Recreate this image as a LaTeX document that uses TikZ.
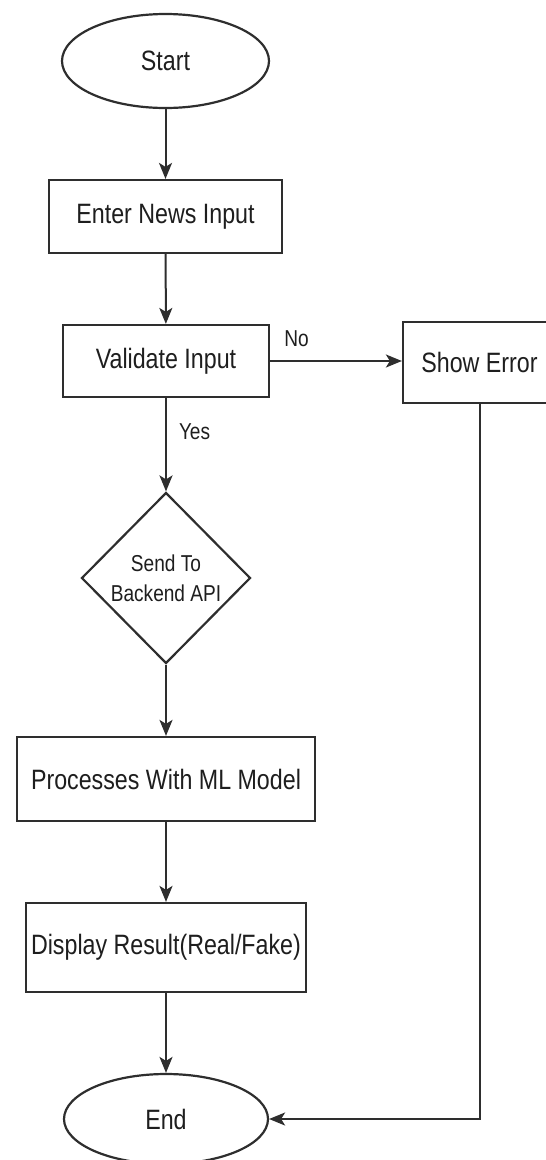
\documentclass[tikz,border=0pt]{standalone}
\usepackage{fontspec}
\setmainfont{Liberation Sans}[FakeStretch=0.83]
\usetikzlibrary{shapes.geometric,arrows.meta}
\definecolor{linec}{HTML}{2E2E2E}
\definecolor{textc}{HTML}{1E1E1E}
\tikzset{
  base/.style={draw=linec, line width=2.2pt, fill=white, text=textc, inner sep=0pt,
    font=\fontsize{28}{32}\selectfont},
  term/.style={base, ellipse},
  procbox/.style={base, rectangle},
  decide/.style={base, diamond, align=center, font=\fontsize{23}{30}\selectfont},
  lbl/.style={text=textc, inner sep=0pt, font=\fontsize{23}{27}\selectfont},
  conn/.style={draw=linec, line width=2pt, -{Stealth[length=16pt,width=13pt,inset=4pt]}},
  plain/.style={draw=linec, line width=2pt}
}
\begin{document}
\begin{tikzpicture}[x=1pt,y=-1pt]
\useasboundingbox (0,0) rectangle (546,1160);
\node[term, minimum width=207pt, minimum height=94pt] (start) at (165.5,61) {Start};
\node[procbox, minimum width=233pt, minimum height=73pt] (enter) at (165.5,216.5) {Enter News Input};
\node[procbox, minimum width=206pt, minimum height=72pt] (validate) at (166,361) {Validate Input};
\node[procbox, minimum width=153pt, minimum height=81pt] (showerr) at (479.5,362.5) {Show Error};
\node[decide, minimum width=169pt, minimum height=171pt] (send) at (166,578) {Send To\\Backend API};
\node[procbox, minimum width=298pt, minimum height=84pt] (proc) at (166,779) {Processes With ML Model};
\node[procbox, minimum width=280pt, minimum height=89pt] (disp) at (166,947.5) {Display Result(Real/Fake)};
\node[term, minimum width=204pt, minimum height=90pt] (end) at (166,1119) {End};

\draw[conn] (start) -- (enter);
\draw[conn] (enter) -- (validate);
\draw[conn] (validate.east) -- node[lbl, pos=0.2, above=13pt] (nolbl) {No} (validate.east -| showerr.west);
\draw[conn] (validate) -- node[lbl, pos=0.36, right=12pt] (yeslbl) {Yes} (send);
\draw[conn] (send) -- (proc);
\draw[conn] (proc) -- (disp);
\draw[conn] (disp) -- (end);
\draw[conn] (showerr.south) |- (end.east);
\end{tikzpicture}
\end{document}
